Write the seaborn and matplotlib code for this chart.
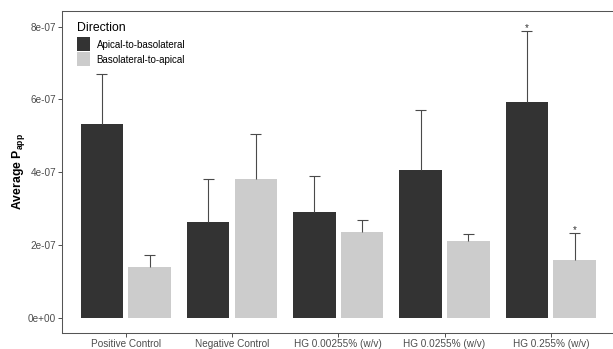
import numpy as np
import pandas as pd
import matplotlib
matplotlib.use("Agg")
import matplotlib.pyplot as plt
from matplotlib.patches import Rectangle
import seaborn as sns

# Apparent permeability by condition and transport direction
conditions = ["Positive Control", "Negative Control", "HG 0.00255% (w/v)",
              "HG 0.0255% (w/v)", "HG 0.255% (w/v)"]
directions = ["Apical-to-basolateral", "Basolateral-to-apical"]

mean_a2b = [5.31e-07, 2.62e-07, 2.90e-07, 4.05e-07, 5.92e-07]
upper_a2b = [6.71e-07, 3.82e-07, 3.88e-07, 5.70e-07, 7.87e-07]
mean_b2a = [1.39e-07, 3.82e-07, 2.35e-07, 2.10e-07, 1.57e-07]
upper_b2a = [1.71e-07, 5.04e-07, 2.67e-07, 2.29e-07, 2.32e-07]
sig_a2b = ["", "", "", "", "*"]
sig_b2a = ["", "", "", "", "*"]

y_ticks = [0, 2e-07, 4e-07, 6e-07, 8e-07]
y_tick_labels = ["0e+00", "2e-07", "4e-07", "6e-07", "8e-07"]

df = pd.DataFrame({
    "Condition": conditions * 2,
    "Direction": [directions[0]] * len(conditions) + [directions[1]] * len(conditions),
    "Papp": mean_a2b + mean_b2a,
})
uppers = {directions[0]: upper_a2b, directions[1]: upper_b2a}
means = {directions[0]: mean_a2b, directions[1]: mean_b2a}
sigs = {directions[0]: sig_a2b, directions[1]: sig_b2a}

sns.set_theme(style="white")
plt.rcParams["font.family"] = ["Liberation Sans", "DejaVu Sans"]
plt.rcParams["mathtext.default"] = "regular"

W, H, DPI = 613, 349, 100
fig = plt.figure(figsize=(W / DPI, H / DPI), dpi=DPI)
ax = fig.add_axes([62 / W, 16 / H, 552.5 / W, 322 / H])


def fig_px(x, y):
    """Pixel position measured from the top-left corner -> figure fraction."""
    return (x / W, 1 - y / H)


palette = {directions[0]: "#333333", directions[1]: "#CCCCCC"}
sns.barplot(data=df, x="Condition", y="Papp", hue="Direction",
            order=conditions, hue_order=directions, palette=palette,
            errorbar=None, width=0.9, gap=1 / 9, linewidth=0,
            saturation=1, legend=False, ax=ax)

# upper-only error bars and significance marks
err_color = "#4a4a4a"
cap_half = 0.052
for container, d in zip(ax.containers, directions):
    xs = np.array([b.get_x() + b.get_width() / 2 for b in container])
    m = np.array(means[d])
    u = np.array(uppers[d])
    ax.vlines(xs, m, u, color=err_color, lw=0.8, zorder=3)
    ax.hlines(u, xs - cap_half, xs + cap_half, color=err_color, lw=0.8, zorder=3)
    for x, top, s in zip(xs, u, sigs[d]):
        if s:
            ax.text(x, top + 0.01e-07, s, ha="center", va="baseline",
                    fontsize=7, color="#333333", zorder=4)

ax.set_xlim(-0.6, 4.6)
ax.set_ylim(-0.426e-07, 8.43e-07)
ax.set_yticks(y_ticks)
ax.set_yticklabels(y_tick_labels)
ax.set_xlabel("")
ax.set_ylabel("Average P$_{app}$", fontsize=8.8, fontweight="bold",
              color="black", labelpad=0.8)

ax.tick_params(axis="both", which="major", length=2.6, width=0.6,
               color="#333333", labelsize=7.2, labelcolor="#4D4D4D",
               pad=1.6, bottom=True, left=True)
for sp in ax.spines.values():
    sp.set_color("#555555")
    sp.set_linewidth(0.75)
ax.grid(False)

# legend inside the panel, top-left
key = 13.6
pitch = 15.0
fig.text(*fig_px(76.7, 27.7), "Direction", fontsize=8.8, color="black",
         ha="left", va="center")
for i, d in enumerate(directions):
    top = 37.3 + i * pitch
    fig.add_artist(Rectangle(fig_px(76.7, top + key), key / W, key / H,
                             facecolor=palette[d], edgecolor="none",
                             transform=fig.transFigure))
    fig.text(*fig_px(96.7, top + key / 2 + 0.6), d, fontsize=7.05,
             color="black", ha="left", va="center")

fig.savefig("out.png", dpi=DPI)
